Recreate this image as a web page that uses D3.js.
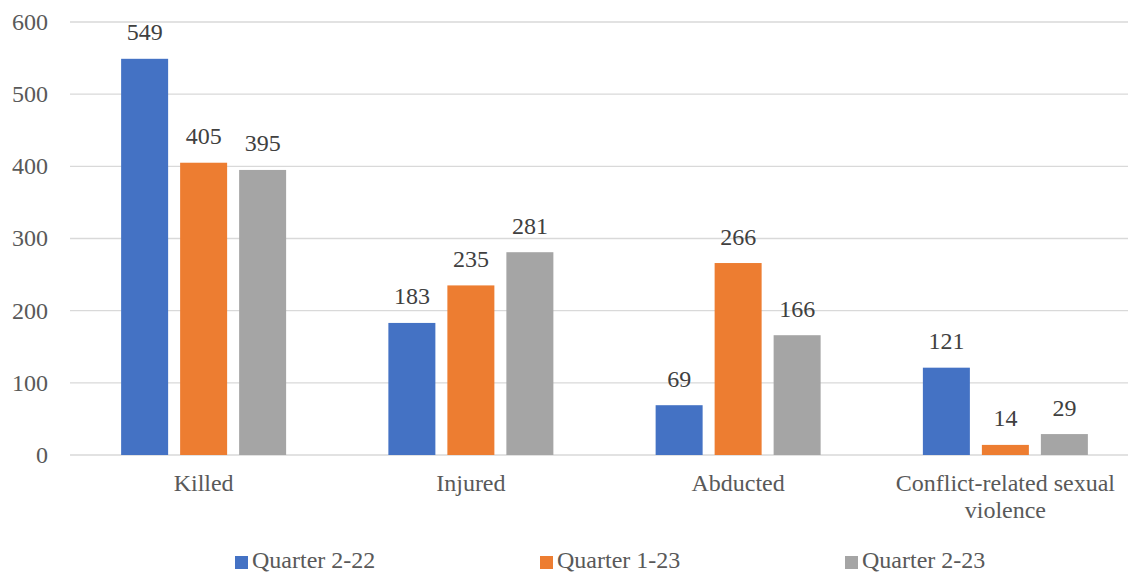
<!DOCTYPE html>
<html><head><meta charset="utf-8">
<script src="https://cdn.jsdelivr.net/npm/d3@7"></script>
<style>html,body{margin:0;padding:0;background:#fff;}svg{display:block;}
svg text{font-family:"Liberation Serif","Times New Roman",Tinos,"DejaVu Serif",serif;}</style>
</head><body>
<svg id="chart" width="1128" height="573"></svg>
<script>
const categories = ["Killed", "Injured", "Abducted", "Conflict-related sexual violence"];
const seriesNames = ["Quarter 2-22", "Quarter 1-23", "Quarter 2-23"];
const q2_22 = [549, 183, 69, 121];
const q1_23 = [405, 235, 266, 14];
const q2_23 = [395, 281, 166, 29];
const yTicks = [0, 100, 200, 300, 400, 500, 600];
const colors = ["#4472C4", "#ED7D31", "#A5A5A5"];

const seriesValues = [q2_22, q1_23, q2_23];
const svg = d3.select("#chart");

const x0 = d3.scaleBand().domain(categories).range([70, 1139]).padding(0);
const groupW = 165;
const off = (x0.bandwidth() - groupW) / 2;
const x1 = d3.scaleBand().domain(seriesNames).range([off, off + groupW]).paddingInner(12/59).paddingOuter(0);
const y = d3.scaleLinear().domain([0, 600]).range([455, 22]);

// gridlines
svg.append("g").selectAll("line").data(yTicks).join("line")
  .attr("x1", 70).attr("x2", 1139)
  .attr("y1", d => y(d)).attr("y2", d => y(d))
  .attr("stroke", "#D9D9D9").attr("stroke-width", 1.3);

// y tick labels
svg.append("g").selectAll("text").data(yTicks).join("text")
  .attr("x", 48).attr("y", d => y(d)).attr("dy", "0.33em")
  .attr("text-anchor", "end")
  .attr("font-size", 24).attr("fill", "#595959")
  .text(d => d);

// bars
const data = [];
categories.forEach((c, i) => seriesNames.forEach((s, j) => data.push({c, s, j, v: seriesValues[j][i]})));
svg.append("g").selectAll("rect").data(data).join("rect")
  .attr("x", d => x0(d.c) + x1(d.s))
  .attr("width", x1.bandwidth())
  .attr("y", d => y(d.v))
  .attr("height", d => y(0) - y(d.v))
  .attr("fill", d => colors[d.j]);

// data labels
svg.append("g").selectAll("text").data(data).join("text")
  .attr("x", d => x0(d.c) + x1(d.s) + x1.bandwidth() / 2)
  .attr("y", d => y(d.v) - 18.5)
  .attr("text-anchor", "middle")
  .attr("font-size", 24).attr("fill", "#404040")
  .text(d => d.v);

// category labels
const catLines = {"Conflict-related sexual violence": ["Conflict-related sexual", "violence"]};
const cg = svg.append("g");
categories.forEach(c => {
  const lines = catLines[c] || [c];
  const t = cg.append("text")
    .attr("text-anchor", "middle")
    .attr("font-size", 24).attr("fill", "#595959");
  lines.forEach((l, k) => {
    t.append("tspan").attr("x", x0(c) + x0.bandwidth() / 2).attr("y", 491 + k * 27).text(l);
  });
});

// legend
const legX = [235, 540, 845];
const lg = svg.append("g");
seriesNames.forEach((s, j) => {
  lg.append("rect").attr("x", legX[j]).attr("y", 556).attr("width", 13).attr("height", 13).attr("fill", colors[j]);
  lg.append("text").attr("x", legX[j] + 17).attr("y", 568)
    .attr("font-size", 24).attr("fill", "#595959").text(s);
});
</script>
</body></html>
